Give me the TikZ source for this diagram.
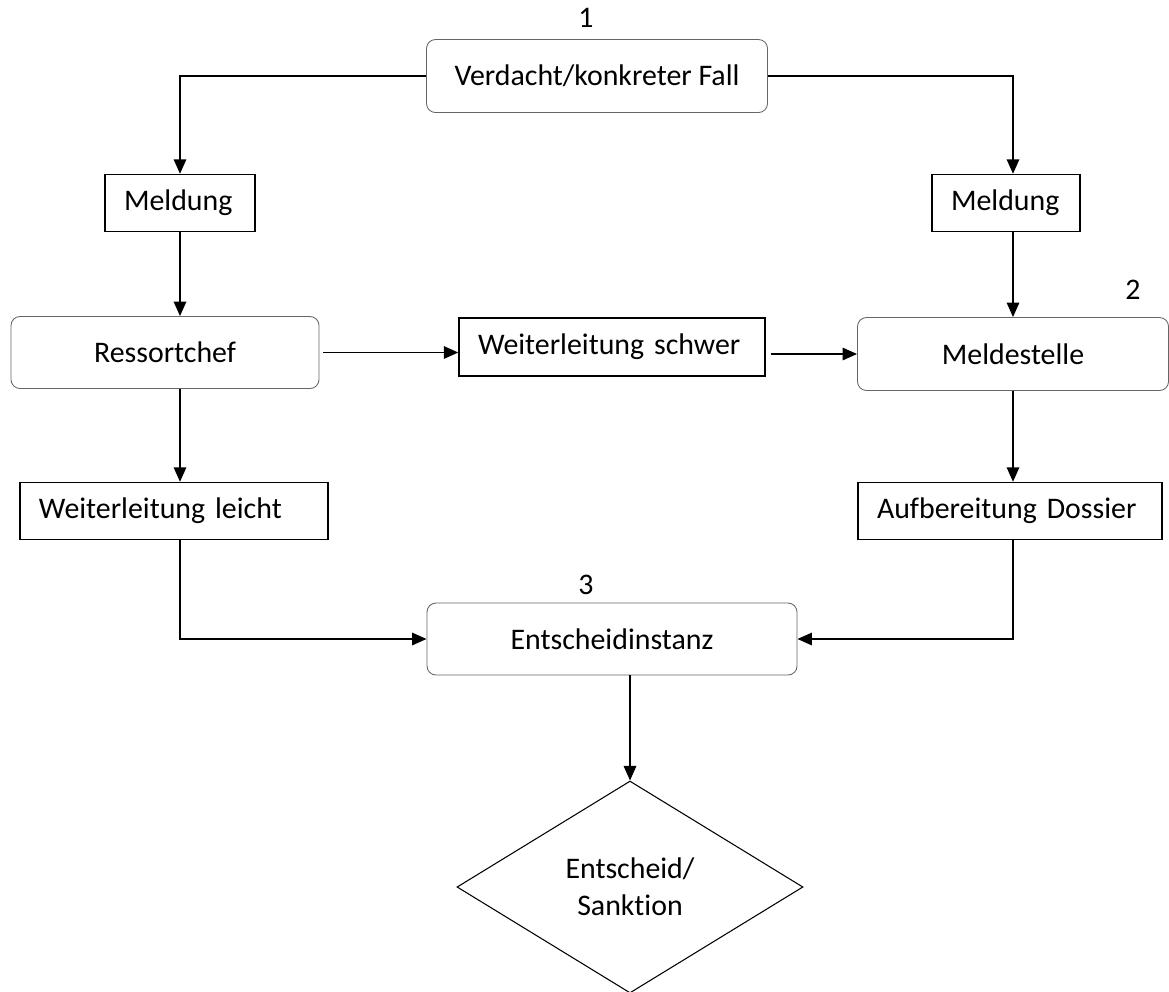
\documentclass[tikz,border=0pt]{standalone}
\usepackage{fontspec}
\setmainfont{Carlito}[Ligatures=NoCommon]
\usetikzlibrary{shapes.geometric, arrows.meta, calc}

\begin{document}
\begin{tikzpicture}[
        font=\fontsize{17}{21}\selectfont,
        % abgerundete Kästen (Stationen)
        station/.style={rectangle, rounded corners=0.18cm, draw=black!60, line width=0.5pt, align=center, inner sep=0pt},
        % einfache Kästen (Schritte), Text linksbündig
        schritt/.style={rectangle, draw, line width=0.8pt, align=left, inner xsep=0.38cm, inner ysep=0pt, minimum height=1.14cm},
        entscheid/.style={diamond, draw, line width=0.6pt, align=center, inner sep=0pt, minimum width=6.92cm, minimum height=4.24cm},
        arrow/.style={-{Triangle[length=2.9mm, width=2.5mm]}, line width=0.9pt}
    ]
    \useasboundingbox (0,0) rectangle (23.38,-19.82);

    % Stationen
    \node (fall) [station, minimum width=6.82cm, minimum height=1.46cm] at (11.94,-1.52) {Verdacht/konkreter Fall};
    \node (ressort) [station, minimum width=6.16cm, minimum height=1.44cm] at (3.30,-7.05) {Ressortchef};
    \node (melde) [station, minimum width=6.22cm, minimum height=1.46cm] at (20.26,-7.08) {Meldestelle};
    \node (instanz) [station, minimum width=7.40cm, minimum height=1.44cm] at (12.24,-12.78) {Entscheidinstanz};

    % Schritte
    \node (meldL) [schritt, text width=2.24cm] at (3.60,-4.06) {Meldung};
    \node (meldR) [schritt, text width=2.2cm] at (20.12,-4.06) {Meldung};
    \node (schwer) [schritt, text width=5.36cm, minimum height=1.16cm] at (12.24,-6.94) {Weiterleitung schwer};
    \node (leicht) [schritt, text width=5.40cm] at (3.48,-10.22) {Weiterleitung leicht};
    \node (dossier) [schritt, text width=5.32cm] at (20.20,-10.22) {Aufbereitung Dossier};

    \node (sanktion) [entscheid] at (12.60,-17.74) {Entscheid/\\Sanktion};

    % Nummern
    \node (nr1) at (11.72,-0.36) {1};
    \node (nr2) at (22.66,-5.80) {2};
    \node (nr3) at (11.72,-11.70) {3};

    % Pfeile
    \draw [arrow] (fall.west) -| (meldL.north);
    \draw [arrow] (fall.east) -| (meldR.north -| melde.north);
    \draw [arrow] (meldL.south) -- (meldL.south |- ressort.north);
    \draw [arrow] (meldR.south -| melde.north) -- (melde.north);
    \draw [arrow] ($(ressort.east)+(0.08,0)$) -- (ressort.east -| schwer.west);
    \draw [arrow] ($(schwer.east |- melde.west)+(0.1,0)$) -- (melde.west);
    \draw [arrow] (ressort.south -| meldL.south) -- (leicht.north -| meldL.south);
    \draw [arrow] (melde.south) -- (dossier.north -| melde.south);
    \draw [arrow] (leicht.south -| meldL.south) |- (instanz.west);
    \draw [arrow] (dossier.south -| melde.south) |- (instanz.east);
    \draw [arrow] (instanz.south -| sanktion.north) -- (sanktion.north);

\end{tikzpicture}
\end{document}
